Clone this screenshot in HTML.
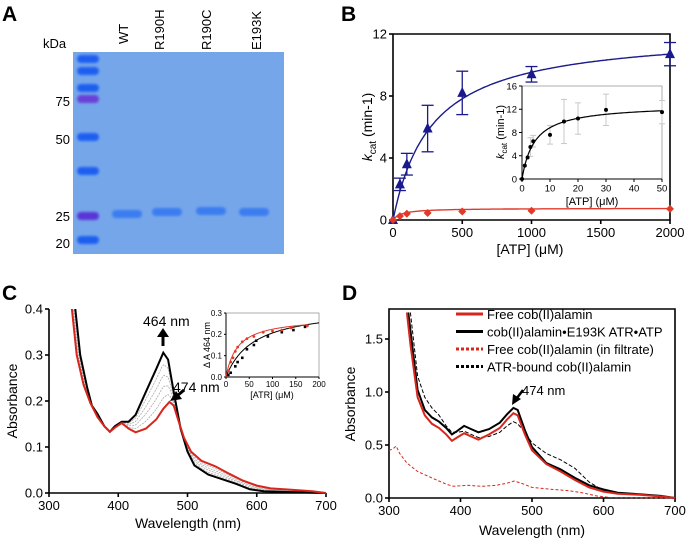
<!DOCTYPE html>
<html><head><meta charset="utf-8">
<style>
html,body{margin:0;padding:0;background:#fff;}
svg{display:block;font-family:"Liberation Sans",Arial,sans-serif;}
</style></head>
<body>
<svg id="fig" width="687" height="544" viewBox="0 0 687 544" xmlns="http://www.w3.org/2000/svg">
<defs>
<filter id="blur1" x="-20%" y="-50%" width="140%" height="200%"><feGaussianBlur stdDeviation="1.2"/></filter>
</defs>
<!-- Panel A -->
<g>
<text x="2" y="21" font-size="21" font-weight="bold">A</text>
<text x="43" y="48" font-size="13">kDa</text>
<rect x="73" y="52" width="211" height="202" fill="#76a6ea"/>
<g id="gelmarks" filter="url(#blur1)"></g>
<g font-size="13" text-anchor="end">
<text x="70" y="106">75</text>
<text x="70" y="144">50</text>
<text x="70" y="221">25</text>
<text x="70" y="248">20</text>
</g>
<g font-size="13">
<text transform="translate(128,44) rotate(-90)">WT</text>
<text transform="translate(164,50) rotate(-90)">R190H</text>
<text transform="translate(211,50) rotate(-90)">R190C</text>
<text transform="translate(261,50) rotate(-90)">E193K</text>
</g>
</g>
<g id="pb"><text x="341" y="21" font-size="21" font-weight="bold">B</text></g>
<g id="pc"><text x="2" y="300" font-size="21" font-weight="bold">C</text></g>
<g id="pd"><text x="342" y="300" font-size="21" font-weight="bold">D</text></g>
</svg>
<script>
const NS="http://www.w3.org/2000/svg";
// ---- Panel A data
const markerBandsY=[59,71,88,99,137,171,216,240];
const markerBandColors=["#1d5ff0","#1d5ff0","#1d5ff0","#6a3fd8","#1d5ff0","#1d5ff0","#5a35d8","#1d5ff0"];
const laneCenters=[127,167,211,254];
const sampleBandY=[214,212,211,212];
// ---- Panel B data
const atpConc=[0,50,100,250,500,1000,2000];
const kcatE193K=[0,2.3,3.6,5.9,8.2,9.4,10.7];
const kcatE193KErr=[0,0.4,0.7,1.5,1.4,0.5,0.75];
const kcatWTfull=[0,0.25,0.4,0.45,0.55,0.6,0.72];
const fitBlue=[12.2,280];
const fitRed=[0.76,60];
const xTicksB=[0,500,1000,1500,2000];
const yTicksB=[0,4,8,12];
const insetAtp=[0,1,2,3,4,10,15,20,30,50];
const insetKcat=[0,2.3,3.7,5.5,6.5,7.6,9.9,10.4,11.9,11.5];
const insetErr=[0,0,0,1.6,1,1.6,3.8,2.7,2.7,2];
const fitInset=[12.8,4.5];
const xTicksBi=[0,10,20,30,40,50];
const yTicksBi=[0,4,8,12,16];
// ---- Panel C data
const cRedWl=[328,333,340,350,360,365,370,380,388,395,405,415,425,440,455,465,474,480,488,495,505,520,540,560,580,600,620,650,680,700];
const cRedAbs=[0.45,0.4,0.3,0.235,0.195,0.18,0.165,0.145,0.133,0.142,0.152,0.14,0.132,0.14,0.16,0.183,0.198,0.19,0.152,0.12,0.09,0.07,0.058,0.042,0.027,0.016,0.01,0.007,0.004,0];
const cBlkWl=[334,338,345,355,362,370,380,388,395,405,415,425,440,455,465,472,480,490,500,510,530,550,570,590,610,650,700];
const cBlkAbs=[0.45,0.4,0.3,0.23,0.19,0.172,0.145,0.133,0.145,0.155,0.155,0.17,0.22,0.27,0.305,0.29,0.22,0.14,0.09,0.06,0.04,0.03,0.02,0.008,0.004,0.002,0];
const cGrayFrac=[0.2,0.4,0.6,0.8];
const xTicksC=[300,400,500,600,700];
const yTicksC=[0,0.1,0.2,0.3,0.4];
const insetCBlkX=[5,10,20,25,35,45,60,65,90,120,145,170];
const insetCBlkY=[0.01,0.02,0.05,0.07,0.09,0.13,0.15,0.17,0.19,0.21,0.22,0.235];
const insetCRedX=[5,10,15,20,25,35,45,60,80,100,120,140,175];
const insetCRedY=[0.03,0.07,0.09,0.12,0.14,0.165,0.18,0.19,0.21,0.215,0.22,0.23,0.24];
const fitCBlk=[0.33,60];
const fitCRed=[0.28,25];
const xTicksCi=[0,50,100,150,200];
const yTicksCi=[0,0.1,0.2,0.3];
// ---- Panel D data
const dRedWl=[325,330,335,340,350,360,370,380,388,395,405,415,425,440,455,465,474,480,490,500,520,540,560,580,600,620,650,680,700];
const dRedAbs=[1.75,1.45,1.2,0.95,0.78,0.7,0.66,0.6,0.54,0.57,0.61,0.58,0.55,0.6,0.66,0.74,0.8,0.78,0.6,0.45,0.32,0.25,0.17,0.1,0.06,0.04,0.03,0.015,0];
const dBlkWl=[327,335,340,350,360,370,380,388,395,405,415,425,440,455,465,474,480,490,500,520,540,560,580,600,620,650,680,700];
const dBlkAbs=[1.75,1.3,1.02,0.83,0.76,0.72,0.66,0.6,0.63,0.68,0.65,0.62,0.65,0.71,0.79,0.85,0.83,0.64,0.48,0.33,0.27,0.19,0.12,0.08,0.05,0.035,0.02,0];
const dBlkDashWl=[330,340,350,360,370,380,388,395,405,415,425,440,455,465,474,480,490,500,520,540,560,580,600,620,650,700];
const dBlkDashAbs=[1.75,1.15,0.95,0.85,0.78,0.68,0.62,0.62,0.63,0.6,0.57,0.58,0.62,0.68,0.72,0.7,0.62,0.52,0.42,0.36,0.28,0.15,0.07,0.04,0.03,0];
const dRedDashWl=[300,305,310,315,325,340,360,380,390,410,430,450,465,475,485,500,530,550,570,590,610,650,700];
const dRedDashAbs=[0.45,0.46,0.49,0.42,0.33,0.25,0.19,0.13,0.11,0.12,0.11,0.12,0.14,0.16,0.14,0.1,0.08,0.07,0.05,0.02,0.005,0.002,0];
const xTicksD=[300,400,500,600,700];
const yTicksD=[0,0.5,1.0,1.5];
const legendD=["Free cob(II)alamin","cob(II)alamin•E193K ATR•ATP","Free cob(II)alamin (in filtrate)","ATR-bound cob(II)alamin"];

function el(tag,attrs,parent){const e=document.createElementNS(NS,tag);for(const k in attrs)e.setAttribute(k,attrs[k]);parent.appendChild(e);return e;}
function lin(d0,d1,r0,r1){return v=>r0+(v-d0)/(d1-d0)*(r1-r0);}
function mm(p,x){return p[0]*x/(p[1]+x);}

// ---- Panel A
const gm=document.getElementById('gelmarks');
markerBandsY.forEach((y,i)=>{const r=el('rect',{x:77,y:y-4,width:22,height:8,rx:4,fill:markerBandColors[i]},gm);
});
laneCenters.forEach((x,i)=>{const r=el('rect',{x:x-15,y:sampleBandY[i]-4,width:30,height:8,rx:4,fill:'#3a7df0'},gm);
});

function axes(g,o){
 const {x0,y0,sx,sy,xt,yt,fs,xfmt,yfmt,tick}=o;
 xt.forEach(v=>{const x=sx(v);el('line',{x1:x,y1:y0,x2:x,y2:y0+tick,stroke:'#000','stroke-width':o.lw},g);
  const t=el('text',{x:x,y:y0+tick+fs,'font-size':fs,'text-anchor':'middle'},g);t.textContent=xfmt(v);
  });
 yt.forEach(v=>{const y=sy(v);el('line',{x1:x0-tick,y1:y,x2:x0,y2:y,stroke:'#000','stroke-width':o.lw},g);
  const t=el('text',{x:x0-tick-2,y:y+fs*0.35,'font-size':fs,'text-anchor':'end'},g);t.textContent=yfmt(v);
  });
}
function poly(g,xs,ys,sx,sy,attrs,name){const pts=xs.map((x,i)=>sx(x).toFixed(1)+','+sy(ys[i]).toFixed(1)).join(' ');
 const p=el('polyline',Object.assign({points:pts,fill:'none'},attrs),g);return p;}
function fitCurve(g,p,xmax,sx,sy,attrs,name){const xs=[],ys=[];for(let i=0;i<=200;i++){const x=xmax*i/200;xs.push(x);ys.push(mm(p,x));}return poly(g,xs,ys,sx,sy,attrs,name);}

// ---- Panel B
const pb=document.getElementById('pb');
const bx=lin(0,2000,393,670), by=lin(0,12,220,34);
el('path',{d:'M393,34 V220 H670 V34 H393',fill:'none',stroke:'#000','stroke-width':1.6},pb);
axes(pb,{x0:393,y0:220,sx:bx,sy:by,xt:xTicksB,yt:yTicksB,fs:13,xfmt:v=>v,yfmt:v=>v,tick:4,lw:1.6});
let t=el('text',{x:530,y:254,'font-size':14,'text-anchor':'middle'},pb);t.textContent='[ATP] (μM)';

t=el('text',{transform:'translate(372,127) rotate(-90)','font-size':14,'text-anchor':'middle'},pb);
t.innerHTML='<tspan font-style="italic">k</tspan><tspan font-size="10" dy="4">cat</tspan><tspan dy="-4"> (min-1)</tspan>';

fitCurve(pb,fitBlue,2000,bx,by,{stroke:'#1a1a8c','stroke-width':1.4},'fit-e193k');
fitCurve(pb,fitRed,2000,bx,by,{stroke:'#e03a2a','stroke-width':1.4},'fit-wt');
atpConc.forEach((x,i)=>{const cx=bx(x),cy=by(kcatE193K[i]),e=kcatE193KErr[i];
 if(e>0){const g=el('g',{stroke:'#1a1a8c','stroke-width':1.3},pb);
  el('line',{x1:cx,y1:by(kcatE193K[i]+e),x2:cx,y2:by(kcatE193K[i]-e)},g);
  el('line',{x1:cx-6,y1:by(kcatE193K[i]+e),x2:cx+6,y2:by(kcatE193K[i]+e)},g);
  el('line',{x1:cx-6,y1:by(kcatE193K[i]-e),x2:cx+6,y2:by(kcatE193K[i]-e)},g);
  }
 const m=el('polygon',{points:`${cx},${cy-6} ${cx-5},${cy+4} ${cx+5},${cy+4}`,fill:'#1a1a8c'},pb);
 
 const cr=by(kcatWTfull[i]);
 const d=el('polygon',{points:`${cx},${cr-4} ${cx+4},${cr} ${cx},${cr+4} ${cx-4},${cr}`,fill:'#e03a2a'},pb);
 });
// inset B
const bix=lin(0,50,522,662), biy=lin(0,16,179,86);
const ib=el('g',{},pb);
el('rect',{x:522,y:86,width:140,height:93,fill:'#fff',stroke:'#999','stroke-width':0.8},ib);
el('path',{d:'M522,86 V179 H662',fill:'none',stroke:'#000','stroke-width':1},ib);
axes(ib,{x0:522,y0:179,sx:bix,sy:biy,xt:xTicksBi,yt:yTicksBi,fs:9.5,xfmt:v=>v,yfmt:v=>v,tick:3,lw:1});
t=el('text',{x:592,y:205,'font-size':11,'text-anchor':'middle'},ib);t.textContent='[ATP] (μM)';

t=el('text',{transform:'translate(504,132) rotate(-90)','font-size':11,'text-anchor':'middle'},ib);
t.innerHTML='<tspan font-style="italic">k</tspan><tspan font-size="8" dy="3">cat</tspan><tspan dy="-3"> (min-1)</tspan>';

insetAtp.forEach((x,i)=>{const cx=bix(x),e=insetErr[i];
 if(e>0){const g=el('g',{stroke:'#c8c8c8','stroke-width':1},ib);
  el('line',{x1:cx,y1:biy(insetKcat[i]+e),x2:cx,y2:biy(insetKcat[i]-e)},g);
  el('line',{x1:cx-3,y1:biy(insetKcat[i]+e),x2:cx+3,y2:biy(insetKcat[i]+e)},g);
  el('line',{x1:cx-3,y1:biy(insetKcat[i]-e),x2:cx+3,y2:biy(insetKcat[i]-e)},g);
  }});
fitCurve(ib,fitInset,50,bix,biy,{stroke:'#000','stroke-width':1.2},'inset-fit');
insetAtp.forEach((x,i)=>{const c=el('circle',{cx:bix(x),cy:biy(insetKcat[i]),r:2,fill:'#000'},ib);
 });

// ---- Panel C
const pc=document.getElementById('pc');
const cx_=lin(300,700,49,326), cy_=lin(0,0.4,493,309);
const cclip=el('clipPath',{id:'clipC'},pc);el('rect',{x:49,y:309,width:278,height:185},cclip);
el('path',{d:'M49,309 V493 H326',fill:'none',stroke:'#000','stroke-width':1.6},pc);
axes(pc,{x0:49,y0:493,sx:cx_,sy:cy_,xt:xTicksC,yt:yTicksC,fs:13,xfmt:v=>v,yfmt:v=>v.toFixed(1),tick:4,lw:1.6});
t=el('text',{x:188,y:528,'font-size':14,'text-anchor':'middle'},pc);t.textContent='Wavelength (nm)';

t=el('text',{transform:'translate(17,401) rotate(-90)','font-size':14,'text-anchor':'middle'},pc);t.textContent='Absorbance';

const cg=el('g',{'clip-path':'url(#clipC)'},pc);
function interp(xs,ys,x){if(x<=xs[0])return ys[0];for(let i=1;i<xs.length;i++){if(x<=xs[i]){const f=(x-xs[i-1])/(xs[i]-xs[i-1]);return ys[i-1]+f*(ys[i]-ys[i-1]);}}return ys[ys.length-1];}
const gWl=[];for(let w=334;w<=700;w+=3)gWl.push(w);
cGrayFrac.forEach(f=>{poly(cg,gWl,gWl.map(w=>interp(cRedWl,cRedAbs,w)*(1-f)+interp(cBlkWl,cBlkAbs,w)*f),cx_,cy_,{stroke:'#aaa','stroke-width':0.8,'stroke-dasharray':'2,1'},'intermediate-spectrum');});
poly(cg,cBlkWl,cBlkAbs,cx_,cy_,{stroke:'#000','stroke-width':2},'spectrum-bound');
poly(cg,cRedWl,cRedAbs,cx_,cy_,{stroke:'#d8261c','stroke-width':2},'spectrum-free');
t=el('text',{x:143,y:326,'font-size':14},pc);t.textContent='464 nm';
el('line',{x1:163,y1:346,x2:163,y2:336,stroke:'#000','stroke-width':3},pc);
el('polygon',{points:'157,337 169,337 163,328',fill:'#000'},pc);
t=el('text',{x:173,y:392,'font-size':14},pc);t.textContent='474 nm';
el('line',{x1:184,y1:390,x2:177,y2:396,stroke:'#000','stroke-width':3},pc);
el('polygon',{points:'170,401 176,391 182,399',fill:'#000'},pc);
// inset C
const cix=lin(0,200,226,319), ciy=lin(0,0.3,377,313);
const ic=el('g',{},pc);
el('rect',{x:226,y:313,width:93,height:64,fill:'#fff',stroke:'#999','stroke-width':0.8},ic);
el('path',{d:'M226,313 V377 H319',fill:'none',stroke:'#000','stroke-width':1},ic);
axes(ic,{x0:226,y0:377,sx:cix,sy:ciy,xt:xTicksCi,yt:yTicksCi,fs:8,xfmt:v=>v,yfmt:v=>v.toFixed(1),tick:2,lw:1});
t=el('text',{x:272,y:398,'font-size':9,'text-anchor':'middle'},ic);t.textContent='[ATR] (μM)';

t=el('text',{transform:'translate(210,345) rotate(-90)','font-size':9,'text-anchor':'middle'},ic);t.textContent='Δ A 464 nm';

fitCurve(ic,fitCBlk,200,cix,ciy,{stroke:'#000','stroke-width':1},'inset-fit-black');
fitCurve(ic,fitCRed,175,cix,ciy,{stroke:'#e03a2a','stroke-width':1},'inset-fit-red');
insetCBlkX.forEach((x,i)=>{const r=el('rect',{x:cix(x)-1.3,y:ciy(insetCBlkY[i])-1.3,width:2.6,height:2.6,fill:'#000'},ic);
 });
insetCRedX.forEach((x,i)=>{const r=el('circle',{cx:cix(x),cy:ciy(insetCRedY[i]),r:1.4,fill:'#e03a2a'},ic);
 });

// ---- Panel D
const pd=document.getElementById('pd');
const dx=lin(300,700,389,675), dy=lin(0,1.5,498,339);
const dclip=el('clipPath',{id:'clipD'},pd);el('rect',{x:389,y:309,width:287,height:190},dclip);
el('path',{d:'M389,309 V498 H675 V309 Z',fill:'none',stroke:'#000','stroke-width':1.6},pd);
axes(pd,{x0:389,y0:498,sx:dx,sy:dy,xt:xTicksD,yt:yTicksD,fs:13,xfmt:v=>v,yfmt:v=>v.toFixed(1),tick:4,lw:1.6});
t=el('text',{x:532,y:535,'font-size':14,'text-anchor':'middle'},pd);t.textContent='Wavelength (nm)';

t=el('text',{transform:'translate(355,404) rotate(-90)','font-size':14,'text-anchor':'middle'},pd);t.textContent='Absorbance';

const dg=el('g',{'clip-path':'url(#clipD)'},pd);
poly(dg,dRedDashWl,dRedDashAbs,dx,dy,{stroke:'#d8261c','stroke-width':1,'stroke-dasharray':'3,2'},'spectrum-filtrate');
poly(dg,dBlkDashWl,dBlkDashAbs,dx,dy,{stroke:'#000','stroke-width':1,'stroke-dasharray':'4,2'},'spectrum-atr-bound');
poly(dg,dBlkWl,dBlkAbs,dx,dy,{stroke:'#000','stroke-width':2},'spectrum-complex');
poly(dg,dRedWl,dRedAbs,dx,dy,{stroke:'#d8261c','stroke-width':2},'spectrum-free');
t=el('text',{x:522,y:395,'font-size':13},pd);t.textContent='474 nm';
el('line',{x1:523,y1:390,x2:517,y2:398,stroke:'#000','stroke-width':2.5},pd);
el('polygon',{points:'512,405 513,394 521,399',fill:'#000'},pd);
const legStyles=[{stroke:'#d8261c',dash:''},{stroke:'#000',dash:''},{stroke:'#d8261c',dash:'3,2'},{stroke:'#000',dash:'3,2'}];
legendD.forEach((lab,i)=>{const y=319+i*17.5;const g=el('g',{},pd);
 el('line',{x1:456,y1:y-5,x2:483,y2:y-5,stroke:legStyles[i].stroke,'stroke-width':3,'stroke-dasharray':legStyles[i].dash},g);
 const tt=el('text',{x:487,y:y,'font-size':13},g);tt.textContent=lab;
 });
</script>
</body></html>
